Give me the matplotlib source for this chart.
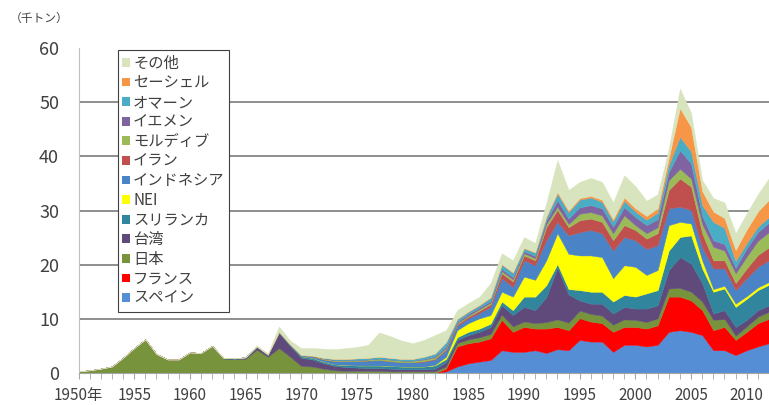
import matplotlib
matplotlib.use("Agg")
import matplotlib.pyplot as plt
from matplotlib.patches import Patch

plt.rcParams['font.family'] = ['Noto Sans CJK JP', 'DejaVu Sans']

years = list(range(1950, 2013))

# catches in thousand tonnes, bottom layer first
spain = [0] * 33 + [0.3, 1.2, 1.8, 2.1, 2.4, 4.2, 3.9, 3.9, 4.2, 3.7,
                    4.4, 4.2, 6.1, 5.8, 5.8, 3.9, 5.2, 5.2, 4.9, 5.2,
                    7.6, 7.9, 7.6, 7.0, 4.2, 4.2, 3.3, 4.2, 4.9, 5.5]
france = [0] * 33 + [0.5, 3.7, 3.7, 3.7, 4.0, 5.6, 3.7, 4.6, 4.0, 4.5,
                     4.1, 3.7, 4.0, 3.7, 3.4, 3.7, 3.3, 3.3, 3.3, 3.6,
                     6.5, 6.2, 5.8, 4.6, 3.7, 4.3, 2.8, 3.4, 4.3, 4.5]
japan = [0.3, 0.5, 0.8, 1.2, 2.8, 4.6, 6.2, 3.5, 2.5, 2.5,
         3.8, 3.7, 5.0, 2.7, 2.6, 2.6, 4.3, 3.0, 4.6, 3.0,
         1.3, 1.2, 0.8, 0.5, 0.4, 0.4, 0.4, 0.4, 0.3, 0.3,
         0.3, 0.3, 0.3, 0.4, 0.6, 0.7, 0.8, 0.8, 1.0, 1.0,
         1.0, 1.0, 1.2, 1.4, 1.4, 1.4, 1.4, 1.4, 1.3, 1.4,
         1.3, 1.2, 1.3, 1.5, 1.6, 1.6, 1.6, 1.9, 1.5, 0.8,
         1.0, 1.2, 1.3]
taiwan = [0] * 15 + [0.2, 0.5, 0.3, 2.8, 2.0,
                     1.5, 1.3, 1.0, 0.8, 0.7, 0.6, 0.5, 0.5, 0.5, 0.4,
                     0.4, 0.4, 0.5, 0.8, 0.6, 0.8, 1.0, 1.3, 1.7, 2.1,
                     2.7, 2.4, 4.6, 9.6, 5.2, 1.9, 1.9, 2.2, 2.1, 2.3,
                     2.1, 2.5, 2.4, 3.4, 5.7, 5.2, 3.4, 1.2, 1.6, 1.6,
                     1.2, 1.2, 1.2]
srilanka = [0] * 13 + [0.1, 0.1, 0.1, 0.1, 0.1, 0.2, 0.2,
                       0.3, 0.3, 0.3, 0.3, 0.4, 0.4, 0.5, 0.5, 0.5, 0.5,
                       0.5, 0.5, 0.6, 0.6, 0.5, 0.6, 0.6, 0.6, 0.7, 0.9,
                       1.9, 2.5, 2.2, 0.6, 1.0, 1.9, 2.2, 2.2, 2.2, 2.2,
                       2.2, 2.8, 2.8, 3.6, 3.7, 5.2, 2.7, 4.0, 4.0, 3.7,
                       3.9, 3.7, 3.8]
nei = [0] * 32 + [0.1, 0.4, 1.3, 1.6, 1.9, 1.6, 1.8, 2.5,
                  3.7, 3.1, 4.6, 5.7, 6.5, 6.4, 6.7, 6.4, 4.3, 5.5,
                  5.5, 3.4, 3.7, 4.7, 2.8, 2.2, 1.5, 0.5, 0.5, 0.6,
                  0.5, 0.5, 0.5]
indonesia = [0] * 19 + [0.1,
                        0.2, 0.3, 0.4, 0.6, 0.7, 0.8, 0.9, 1.0, 0.9, 0.8,
                        0.8, 0.9, 1.0, 1.2, 0.8, 0.9, 1.0, 1.5, 2.5, 1.8,
                        3.0, 2.7, 3.7, 2.1, 3.4, 4.3, 4.7, 4.4, 5.1, 5.2,
                        4.9, 4.8, 4.6, 3.1, 2.8, 2.5, 2.4, 3.8, 3.2, 2.5,
                        3.3, 3.8, 4.0]
iran = [0] * 31 + [0.1, 0.1, 0.2, 0.3, 0.3, 0.4, 0.5, 0.9, 1.0,
                   0.9, 0.9, 2.4, 2.2, 1.5, 2.2, 2.1, 2.1, 1.9, 2.2,
                   1.9, 1.9, 2.2, 3.4, 5.2, 4.3, 2.6, 1.5, 1.5, 1.3,
                   1.8, 2.2, 2.4]
maldives = [0] * 21 + [0.1, 0.2, 0.2, 0.2, 0.2, 0.2, 0.3, 0.3, 0.3,
                       0.3, 0.3, 0.3, 0.2, 0.2, 0.2, 0.3, 0.3, 0.4, 0.4,
                       0.4, 0.4, 0.6, 0.6, 0.6, 1.2, 1.2, 1.2, 1.3, 1.8,
                       0.9, 1.0, 1.1, 1.8, 1.8, 1.5, 1.7, 2.5, 1.8, 1.8,
                       2.2, 2.6, 2.8]
yemen = [0] * 31 + [0.1, 0.2, 0.3, 0.2, 0.3, 0.3, 0.3, 0.4, 0.4,
                    0.4, 0.4, 0.6, 1.2, 1.0, 1.2, 1.3, 1.3, 1.2, 1.5,
                    1.5, 1.5, 1.5, 1.5, 3.4, 2.8, 1.5, 1.2, 1.2, 1.0,
                    1.5, 1.6, 1.8]
oman = [0] * 22 + [0.1, 0.2, 0.2, 0.3, 0.3, 0.3, 0.3, 0.3,
                   0.3, 0.4, 0.5, 0.8, 0.5, 0.4, 0.4, 0.6, 0.8, 0.8,
                   0.5, 0.6, 0.6, 1.2, 1.2, 1.4, 1.4, 1.2, 1.0, 1.2,
                   1.0, 1.0, 1.2, 1.3, 2.5, 2.2, 2.0, 3.4, 3.0, 1.3,
                   1.0, 1.0, 1.0]
seychelles = [0] * 34 + [0.1, 0.1, 0.1, 0.1, 0.1, 0.1,
                         0.1, 0.1, 0.2, 0.3, 0.3, 0.3, 0.3, 0.4, 0.4, 0.6,
                         0.6, 0.7, 0.8, 1.3, 5.3, 4.5, 2.6, 1.9, 1.8, 2.0,
                         2.5, 2.8, 3.2]
others = [0] * 16 + [0.2, 0.2, 1.0, 0.7,
                     1.3, 1.4, 1.7, 1.8, 2.0, 2.1, 2.4, 4.5, 4.0, 3.4,
                     2.9, 3.1, 3.4, 2.2, 1.6, 1.5, 1.5, 2.6, 2.0, 2.2,
                     2.0, 1.7, 2.5, 5.9, 3.8, 3.0, 3.3, 3.3, 3.1, 4.1,
                     4.1, 2.8, 2.6, 1.8, 3.6, 2.6, 2.0, 2.5, 2.9, 3.1,
                     3.0, 3.2, 4.0]

series = [spain, france, japan, taiwan, srilanka, nei, indonesia,
          iran, maldives, yemen, oman, seychelles, others]
labels = ['スペイン', 'フランス', '日本', '台湾', 'スリランカ', 'NEI', 'インドネシア',
          'イラン', 'モルディブ', 'イエメン', 'オマーン', 'セーシェル', 'その他']
colors = ['#558ED5', '#FF0000', '#77933C', '#604A7B', '#31859C', '#FFFF00', '#4A84C6',
          '#C0504D', '#9BBB59', '#8064A2', '#4BACC6', '#F79646', '#D7E4BD']

fig = plt.figure(figsize=(7.69, 4.05), dpi=100)
ax = fig.add_axes([78.5 / 769, 32 / 405, 690.5 / 769, 325 / 405])

ax.hlines([10, 20, 30, 40, 50], 1950, 2013, color='#868686', lw=1.3, zorder=0)
polys = ax.stackplot(years, *series, colors=colors, zorder=1)
for p, c in zip(polys, colors):
    p.set_edgecolor(c)
    p.set_linewidth(0.3)

ax.set_xlim(1950, 2011.7)
ax.set_ylim(0, 60)

ax.set_yticks(range(0, 61, 10))
ax.tick_params(axis='y', length=0, pad=14, labelsize=13, labelcolor='#404040')
ax.set_xticks(range(1950, 2015, 5))
ax.set_xticklabels(['1950年'] + [str(y) for y in range(1955, 2015, 5)])
ax.set_xticks(years, minor=True)
ax.tick_params(axis='x', which='both', direction='out', length=4, color='#A6A6A6',
               labelsize=11, labelcolor='#404040', pad=6)

for s in ['top', 'right']:
    ax.spines[s].set_visible(False)
ax.spines['left'].set_color('#BFBFBF')
ax.spines['bottom'].set_color('#A6A6A6')

fig.text(10 / 769, 1 - 18 / 405, '（千トン）', fontsize=8.5, color='#404040', va='center')

handles = [Patch(facecolor=c, edgecolor='none') for c in colors[::-1]]
leg = ax.legend(handles, labels[::-1], loc='upper left', bbox_to_anchor=(0.057, 0.993),
                borderaxespad=0, frameon=True, fancybox=False, edgecolor='#404040',
                framealpha=1, fontsize=11, handlelength=0.5, handleheight=0.5,
                handletextpad=0.2, labelspacing=0.17, borderpad=0.3)
leg.get_frame().set_linewidth(0.8)
for t in leg.get_texts():
    t.set_color('#404040')

fig.savefig('out.png', dpi=100)
